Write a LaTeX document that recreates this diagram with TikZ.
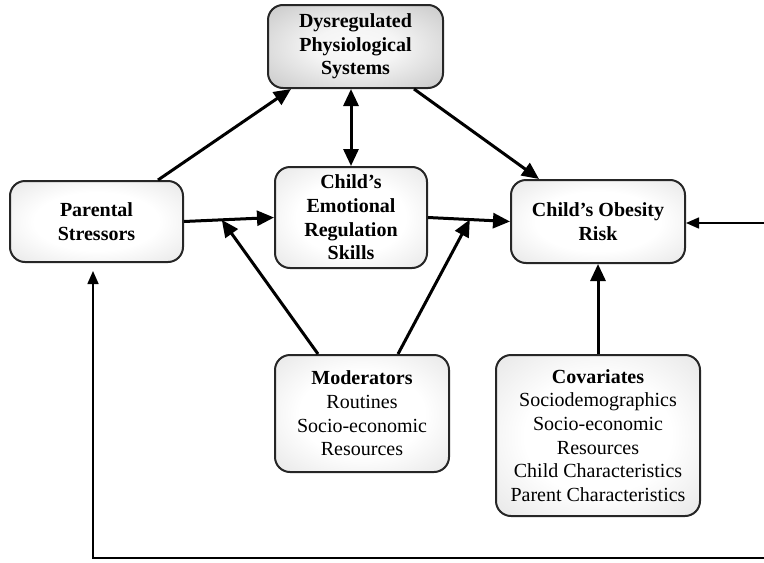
\documentclass[tikz,border=0pt]{standalone}
\usepackage{fontspec}
\setmainfont{Liberation Serif}
\usetikzlibrary{arrows.meta,calc,shapes.misc}
\pgfdeclareradialshading{softbox}{\pgfpoint{0bp}{0bp}}{color(0bp)=(white); color(18bp)=(white); color(50bp)=(black!17); color(72bp)=(black!30)}
\pgfdeclareradialshading{darkshade}{\pgfpoint{0bp}{0bp}}{color(0bp)=(black!2); color(12bp)=(black!4); color(50bp)=(black!32); color(72bp)=(black!45)}
\tikzset{
  box/.style={draw=black!85, line width=1pt, rounded corners=7.5pt, inner sep=0pt,
    align=center, font=\fontsize{10}{11.8}\selectfont,
    shade, shading=softbox},
  darkbox/.style={box, shading=darkshade},
  arr/.style={line width=1.5pt, -{Triangle[length=8.5pt,width=7.5pt]}},
  darr/.style={line width=1.5pt, {Triangle[length=8.5pt,width=7.5pt]}-{Triangle[length=8.5pt,width=7.5pt]}},
  thin arr/.style={line width=0.8pt, -{Triangle[length=6.5pt,width=5.5pt]}},
}
\begin{document}
\begin{tikzpicture}[x=0.5pt,y=-0.5pt]
\useasboundingbox (0,0) rectangle (764,562);
\node[darkbox, minimum width=87.5pt, minimum height=41.5pt] (dys) at (355.5,46.5)
  {\textbf{Dysregulated}\\\textbf{Physiological}\\\textbf{Systems}};
\node[box, minimum width=86.5pt, minimum height=40.5pt] (par) at (96.5,221.5)
  {\textbf{Parental}\\\textbf{Stressors}};
\node[box, minimum width=76pt, minimum height=50.5pt] (emo) at (351,217.5)
  {\textbf{Child’s}\\\textbf{Emotional}\\\textbf{Regulation}\\\textbf{Skills}};
\node[box, minimum width=87pt, minimum height=41.5pt] (obe) at (598,221.5)
  {\textbf{Child’s Obesity}\\\textbf{Risk}};
\node[box, minimum width=87pt, minimum height=58.5pt] (mod) at (362,413.5)
  {\textbf{Moderators}\\Routines\\Socio-economic\\Resources};
\node[box, minimum width=102pt, minimum height=80.5pt] (cov) at (598,435.5)
  {\textbf{Covariates}\\Sociodemographics\\Socio-economic\\Resources\\Child Characteristics\\Parent Characteristics};

\coordinate (rin) at (764,223);
\coordinate (br) at (764,558);
\coordinate (bl) at (93,558);

\draw[arr] ([xshift=-13pt]par.north east) -- ([xshift=12pt]dys.south west);
\draw[darr] (emo.north |- dys.south) -- (emo.north);
\draw[arr] ([xshift=-15pt]dys.south east) -- ([xshift=14.5pt]obe.north west);
\draw[arr] (par.east) -- coordinate[pos=0.42] (pe) (emo.west);
\draw[arr] (emo.east) -- coordinate[pos=0.51] (eo) (obe.west);
\draw[arr] ([xshift=-22pt]mod.north) -- (pe);
\draw[arr] ([xshift=18pt]mod.north) -- (eo);
\draw[arr] (cov.north) -- (obe.south);
\draw[thin arr] (rin) -- (rin -| obe.east);
\draw[thin arr] (br) -- (bl) -- ($(bl |- par.south)+(0,8)$);
\end{tikzpicture}
\end{document}
